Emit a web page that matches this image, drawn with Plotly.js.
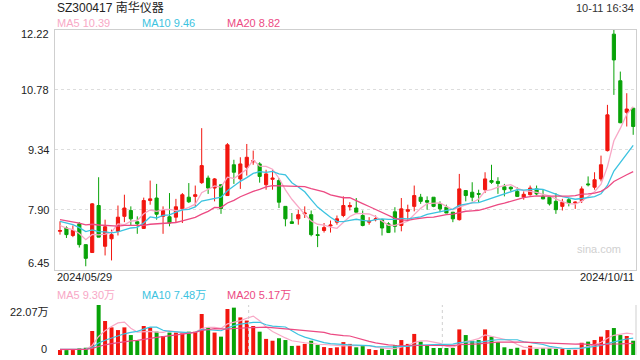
<!DOCTYPE html>
<html><head><meta charset="utf-8">
<script src="https://cdn.plot.ly/plotly-3.0.1.min.js"></script>
<style>html,body{margin:0;padding:0;background:#fff}#chart{width:640px;height:360px}</style>
</head><body><div id="chart"></div>
<script>
const dates = ["2024/05/29","2024/05/30","2024/05/31",
"2024/06/03","2024/06/04","2024/06/05","2024/06/06","2024/06/07","2024/06/11","2024/06/12","2024/06/13","2024/06/14",
"2024/06/17","2024/06/18","2024/06/19","2024/06/20","2024/06/21","2024/06/24","2024/06/25","2024/06/26","2024/06/27","2024/06/28",
"2024/07/01","2024/07/02","2024/07/03","2024/07/04","2024/07/05","2024/07/08","2024/07/09","2024/07/10","2024/07/11","2024/07/12",
"2024/07/15","2024/07/16","2024/07/17","2024/07/18","2024/07/19","2024/07/22","2024/07/23","2024/07/24","2024/07/25","2024/07/26",
"2024/07/29","2024/07/30","2024/07/31","2024/08/01","2024/08/02","2024/08/05","2024/08/06","2024/08/07","2024/08/08","2024/08/09",
"2024/08/12","2024/08/13","2024/08/14","2024/08/15","2024/08/16","2024/08/19","2024/08/20","2024/08/21","2024/08/22","2024/08/23",
"2024/08/26","2024/08/27","2024/08/28","2024/08/29","2024/08/30","2024/09/02","2024/09/03","2024/09/04","2024/09/05","2024/09/06",
"2024/09/09","2024/09/10","2024/09/11","2024/09/12","2024/09/13","2024/09/18","2024/09/19","2024/09/20","2024/09/23","2024/09/24",
"2024/09/25","2024/09/26","2024/09/27","2024/09/30","2024/10/08","2024/10/09","2024/10/10","2024/10/11"];

const opens  = [7.38,7.46,7.28,7.56,7.06,6.87,8.00,7.02,7.20,7.38, 7.74,7.88,7.61,7.45,8.12,8.18,7.74,7.73,7.72,7.92,
 8.20,8.22,8.55,8.66,8.42,8.50,8.24,8.98,8.64,8.92, 9.05,9.00,8.50,8.63,8.60,7.98,7.61,7.68,7.80,7.78,
 7.30,7.40,7.51,7.60,7.76,7.97,7.94,7.76,7.60,7.66, 7.66,7.56,7.85,7.52,7.86,7.98,8.20,8.12,8.20,8.04,
 7.96,7.84,7.66,8.36,8.32,8.29,8.38,8.60,8.58,8.45, 8.44,8.34,8.20,8.26,8.40,8.22,8.20,8.10,7.98,8.14,
 8.06,8.12,8.52,8.44,8.64,9.32,12.12,11.00,10.24,10.34];
const highs  = [7.62,7.50,7.52,7.60,7.06,8.06,8.68,7.66,7.42,8.00, 8.26,7.98,7.74,8.19,8.60,8.52,7.98,8.30,8.16,8.30,
 8.54,8.48,9.86,8.72,8.66,8.50,9.50,9.10,9.16,9.48, 9.32,9.04,8.86,8.86,8.66,7.98,7.82,7.90,7.98,7.88,
 7.50,7.58,7.64,7.76,8.22,8.08,8.18,7.88,7.72,7.76, 7.68,7.60,7.96,8.18,8.02,8.48,8.28,8.22,8.20,8.10,
 8.02,7.84,8.76,8.36,8.56,8.38,8.80,8.98,8.68,8.52, 8.46,8.44,8.34,8.48,8.48,8.38,8.20,8.30,8.16,8.18,
 8.10,8.46,8.70,8.80,9.20,10.42,12.22,11.22,10.70,10.34];
const lows   = [7.30,7.22,7.24,6.99,6.54,6.87,7.24,6.80,6.68,7.28, 7.60,7.52,7.32,7.44,8.02,7.66,7.32,7.50,7.58,7.58,
 8.06,7.98,8.52,8.28,8.10,7.80,8.24,8.52,8.40,8.72, 8.98,8.55,8.38,8.38,7.94,7.50,7.57,7.54,7.70,7.26,
 7.00,7.35,7.35,7.54,7.72,7.88,7.82,7.50,7.54,7.62, 7.28,7.34,7.35,7.38,7.66,7.86,8.04,7.90,7.96,7.84,
 7.82,7.60,7.64,8.10,8.10,8.08,8.30,8.52,8.28,8.22, 8.34,8.21,8.14,8.24,8.25,8.15,8.00,7.80,7.88,7.98,
 7.92,8.06,8.46,8.38,8.58,9.30,10.66,9.98,9.90,9.70];
const closes = [7.40,7.30,7.40,7.06,6.73,8.04,7.24,7.49,7.30,7.72, 7.94,7.68,7.56,8.12,8.16,7.79,7.88,7.58,7.97,8.26,
 8.09,8.26,8.96,8.42,8.64,7.93,9.46,8.80,9.00,9.16, 9.08,8.70,8.76,8.66,8.08,7.68,7.57,7.78,7.82,7.30,
 7.28,7.47,7.53,7.68,8.00,8.00,7.84,7.52,7.62,7.68, 7.46,7.35,7.50,7.92,7.90,8.24,8.10,8.08,7.98,7.92,
 7.82,7.68,8.40,8.24,8.20,8.27,8.64,8.56,8.53,8.38, 8.40,8.22,8.27,8.42,8.28,8.16,8.04,7.90,8.08,8.06,
 8.08,8.40,8.50,8.62,8.98,10.18,11.50,9.99,10.32,9.90];
// volume in 万
const volumes = [2.2,2.2,2.2,2.9,3.2,10.6,22.07,15.0,12.2,11.0, 12.2,8.8,6.3,12.8,12.2,10.3,8.4,9.9,9.9,9.9,
 10.3,10.3,18.1,12.2,9.9,8.1,20.3,20.9,16.6,15.2, 12.8,10.3,7.1,6.3,7.4,6.6,4.0,4.1,4.9,6.3,
 4.4,3.5,3.1,3.4,5.7,4.9,3.4,4.0,2.6,2.2, 2.9,2.2,4.3,6.6,4.9,9.3,5.9,4.4,3.1,3.1,
 3.1,3.1,11.3,8.8,6.3,6.6,11.3,8.1,5.7,3.4, 2.7,3.2,2.3,4.1,2.7,3.0,3.0,2.7,2.7,2.3,
 2.2,5.4,5.9,6.6,8.1,11.0,11.9,8.8,8.4,6.3];
// closes / volumes of the sessions just before the window (only feed the moving averages)
const priorCloses = [7.85,7.80,7.72,7.65,7.70,7.62,7.68,7.75,7.66,7.57,7.70,7.78,7.80,7.66,7.66,7.62,7.58,7.52,7.48];
const priorVolumes = [2.6,2.4,2.8,2.5,2.3,2.7,2.6,2.4,2.5,2.6,2.3,2.5,2.7,2.4,2.6,2.5,2.3,2.4,2.6];

const priceTicks = [12.22,10.78,9.34,7.90,6.45];
const volTicks = [0,22.07];
const volTickText = ["0","22.07万"];
const maPeriods = [5,10,20];
const maLabels = ["MA5 10.39","MA10 9.46","MA20 8.82"];
const volMaLabels = ["MA5 9.30万","MA10 7.48万","MA20 5.17万"];
const title = "SZ300417 南华仪器";
const stamp = "10-11 16:34";

const RED = "#f2160f", GREEN = "#08a308";
const MA_COLORS = ["#f8a8c6","#3cc3e0","#ec4a83"];
const FONT = "Liberation Sans, Arial, Noto Sans CJK SC, sans-serif";

function movingAvg(prior, vals, n){
  const all = prior.concat(vals), off = prior.length, out = [];
  for(let i=0;i<vals.length;i++){
    let s=0; for(let k=0;k<n;k++) s+=all[off+i-k];
    out.push(s/n);
  }
  return out;
}

const traces = [];
traces.push({type:"candlestick", x:dates, open:opens, high:highs, low:lows, close:closes,
  xaxis:"x", yaxis:"y", hoverinfo:"skip", whiskerwidth:0,
  increasing:{line:{color:RED,width:1}, fillcolor:RED},
  decreasing:{line:{color:GREEN,width:1}, fillcolor:GREEN}, showlegend:false});
maPeriods.forEach((n,j)=>{
  traces.push({type:"scatter", mode:"lines", x:dates, y:movingAvg(priorCloses,closes,n),
    xaxis:"x", yaxis:"y", line:{color:MA_COLORS[j], width:1.3}, hoverinfo:"skip", showlegend:false});
});
traces.push({type:"bar", x:dates, y:volumes, xaxis:"x2", yaxis:"y2", width:0.62,
  marker:{color:closes.map((c,i)=> c>=opens[i]?RED:GREEN), line:{width:0}}, hoverinfo:"skip", showlegend:false});
maPeriods.forEach((n,j)=>{
  traces.push({type:"scatter", mode:"lines", x:dates, y:movingAvg(priorVolumes,volumes,n),
    xaxis:"x2", yaxis:"y2", line:{color:MA_COLORS[j], width:1.2}, hoverinfo:"skip", showlegend:false});
});

const W=640,H=360,ML=55,MR=4,MT=30,MB=5;
const ph = H-MT-MB;
const mainDom = [(H-MB-270)/ph, 1];
const volDom = [0, 50/ph];
const pitch = (633.2-60)/(dates.length-1);
const xr = [-(60-ML)/pitch, dates.length-1 + (W-MR-633.2)/pitch];

const ann = [];
function txt(x,y,t,opt){ ann.push(Object.assign({xref:"paper",yref:"paper",x:x,y:y,text:t,showarrow:false,
  font:{family:FONT,size:11,color:"#333"}, xanchor:"left", yanchor:"middle"},opt||{})); }
function py(pix){ return (H-MB-pix)/ph; }
function px(pix){ return (pix-ML)/(W-ML-MR); }

txt(px(55), py(7.5), title, {font:{family:FONT,size:12,color:"#222"}});
txt(px(636), py(8), stamp, {xanchor:"right", font:{family:FONT,size:11,color:"#333"}});
const legX = [55,140,225];
maLabels.forEach((t,j)=> txt(px(legX[j]), py(23.5), t, {font:{family:FONT,size:11,color:MA_COLORS[j]}}));
volMaLabels.forEach((t,j)=> txt(px(legX[j]), py(295), t, {font:{family:FONT,size:11,color:MA_COLORS[j]}}));
txt(px(55), py(277), dates[0], {font:{family:FONT,size:11,color:"#222"}});
txt(px(636), py(277), dates[dates.length-1], {xanchor:"right", font:{family:FONT,size:11,color:"#222"}});
txt(px(623), py(249), "sina.com", {xanchor:"right", font:{family:FONT,size:11,color:"#d0d0d0"}});

priceTicks.forEach((v,i)=>{
  const shift = i===0 ? -4 : (i===priceTicks.length-1 ? 7 : 0);
  ann.push({xref:"paper", yref:"y", x:0, y:v, xshift:-4, yshift:shift, text:v.toFixed(2), showarrow:false,
    xanchor:"right", yanchor:"middle", font:{family:FONT,size:11,color:"#222"}});
});
volTicks.forEach((v,i)=>{
  const shift = i===0 ? 6 : -7;
  ann.push({xref:"paper", yref:"y2", x:0, y:v, xshift:i===0?-6:-4, yshift:shift, text:volTickText[i], showarrow:false,
    xanchor:"right", yanchor:"middle", font:{family:FONT,size:11,color:"#222"}});
});

const shapes = [
  {type:"line", xref:"paper", yref:"y2", x0:1/3, x1:1/3, y0:0, y1:volTicks[1], line:{color:"#d0d0d0", width:1, dash:"dot"}},
  {type:"line", xref:"paper", yref:"y2", x0:2/3, x1:2/3, y0:0, y1:volTicks[1], line:{color:"#d0d0d0", width:1, dash:"dot"}},
  {type:"line", xref:"paper", yref:"y2", x0:1, x1:1, y0:0, y1:volTicks[1], line:{color:"#cfcfcf", width:1}}
];

const layout = {
  width:W, height:H, margin:{l:ML,r:MR,t:MT,b:MB}, paper_bgcolor:"#fff", plot_bgcolor:"#fff",
  showlegend:false, hovermode:false, dragmode:false,
  xaxis:{type:"category", domain:[0,1], anchor:"y", range:xr, showticklabels:false, ticks:"",
    showgrid:false, zeroline:false, showline:true, mirror:true, linecolor:"#cfcfcf", linewidth:1,
    rangeslider:{visible:false}},
  yaxis:{domain:mainDom, range:[priceTicks[priceTicks.length-1], priceTicks[0]], tickvals:priceTicks,
    showticklabels:false, ticks:"", showgrid:true, gridcolor:"#dddddd", griddash:"dot", gridwidth:1,
    zeroline:false, showline:true, mirror:true, linecolor:"#cfcfcf", linewidth:1},
  xaxis2:{type:"category", domain:[0,1], anchor:"y2", matches:"x", showticklabels:false, ticks:"",
    showgrid:false, zeroline:false, showline:false, rangeslider:{visible:false}},
  yaxis2:{domain:volDom, range:[0, volTicks[1]], tickvals:[volTicks[1]], showticklabels:false, ticks:"",
    showgrid:true, gridcolor:"#d0d0d0", griddash:"dot", zeroline:false, showline:false},
  annotations:ann, shapes:shapes, bargap:0.38
};
Plotly.newPlot("chart", traces, layout, {staticPlot:true, displayModeBar:false});
</script></body></html>
